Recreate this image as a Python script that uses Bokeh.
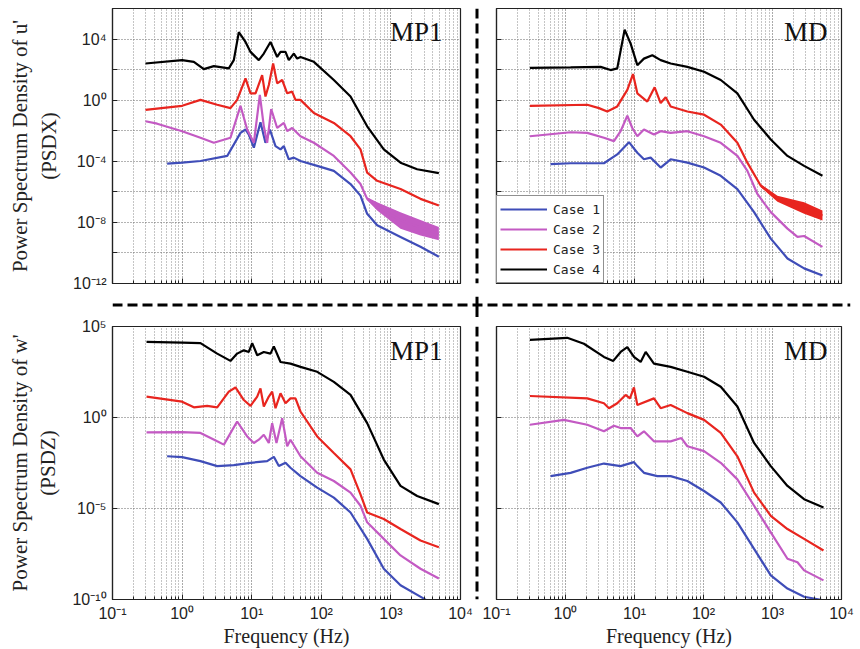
import numpy as np
from bokeh.plotting import figure
from bokeh.layouts import column, row
from bokeh.models import (Range1d, FixedTicker, CustomJSTickFormatter, Label,
                          Span, Legend, LegendItem)
from bokeh.embed import file_html
from bokeh.resources import INLINE

# ---------------- data (log10 frequency [Hz], log10 PSD) ----------------
case_names = ["Case 1", "Case 2", "Case 3", "Case 4"]
case_colors = ["#3f4db8", "#c35ac3", "#e8251f", "#000000"]

x_major = [0.1, 1, 10, 100, 1000, 10000]
x_minor = [0.2, 0.3, 0.4, 0.5, 0.6, 0.7, 0.8, 0.9,
           2, 3, 4, 5, 6, 7, 8, 9,
           20, 30, 40, 50, 60, 70, 80, 90,
           200, 300, 400, 500, 600, 700, 800, 900,
           2000, 3000, 4000, 5000, 6000, 7000, 8000, 9000]
y_ticks_u = [1e-12, 1e-10, 1e-8, 1e-6, 1e-4, 1e-2, 1, 1e2, 1e4, 1e6]
y_ticks_w = [1e-10, 1e-5, 1, 1e5]

# --- MP1, u' (PSDX) ---
mp1u_c1_f = [-0.215, 0, 0.264, 0.648, 0.839, 0.911, 0.959, 1.031, 1.126, 1.198, 1.261, 1.342, 1.414, 1.462, 1.533, 1.605, 1.701, 1.941, 2.180, 2.420, 2.563, 2.659, 2.803, 3.138, 3.425, 3.689]
mp1u_c1_p = [-4.15, -4.09, -3.98, -3.65, -2.14, -1.92, -2.25, -3.11, -1.45, -2.79, -1.92, -3.01, -3.22, -3.01, -3.87, -3.76, -3.98, -4.30, -4.63, -5.49, -6.25, -7.44, -8.19, -8.95, -9.60, -10.25]
mp1u_c2_f = [-0.526, -0.358, 0, 0.264, 0.456, 0.695, 0.839, 0.935, 1.031, 1.117, 1.174, 1.222, 1.280, 1.366, 1.462, 1.510, 1.581, 1.701, 1.893, 2.180, 2.420, 2.563, 2.659, 2.803, 3.138, 3.689]
mp1u_c2_p = [-1.38, -1.54, -2.03, -2.46, -2.79, -2.46, -0.37, -1.92, -2.79, 0.35, -1.71, -2.79, -0.58, -1.82, -1.49, -2.03, -1.82, -2.36, -2.79, -3.65, -4.74, -5.49, -6.46, -6.94, -7.87, -8.74]
mp1u_c2_band_f = [2.659, 2.803, 3.138, 3.425, 3.689]
mp1u_c2_band_hi = [-6.35, -6.68, -7.33, -7.85, -8.30]
mp1u_c2_band_lo = [-6.55, -7.22, -8.41, -8.85, -9.17]
mp1u_c3_f = [-0.526, 0, 0.264, 0.504, 0.695, 0.791, 0.911, 0.983, 1.055, 1.150, 1.198, 1.246, 1.308, 1.366, 1.438, 1.510, 1.581, 1.629, 1.701, 1.893, 2.180, 2.420, 2.563, 2.659, 2.803, 3.138, 3.425, 3.689]
mp1u_c3_p = [-0.63, -0.37, 0.02, -0.30, -0.52, 0.02, 1.43, 0.45, 0.45, 1.64, 0.24, 0.99, 2.40, 1.10, 1.32, 0.45, 0.56, 0.02, 0.02, -0.84, -1.49, -2.36, -3.22, -4.74, -5.28, -5.82, -6.46, -6.90]
mp1u_c4_f = [-0.526, 0, 0.169, 0.312, 0.456, 0.671, 0.743, 0.815, 0.911, 0.983, 1.102, 1.174, 1.270, 1.366, 1.414, 1.486, 1.533, 1.605, 1.653, 1.701, 1.893, 2.180, 2.420, 2.659, 2.898, 3.138, 3.377, 3.689]
mp1u_c4_p = [2.40, 2.62, 2.51, 2.03, 2.23, 2.08, 2.62, 4.45, 3.81, 3.16, 2.62, 3.05, 3.81, 2.83, 3.16, 3.16, 2.62, 3.05, 2.72, 2.83, 2.51, 1.32, 0.24, -1.71, -3.22, -4.09, -4.52, -4.78]

# --- MD, u' (PSDX) ---
mdu_c1_f = [-0.217, 0.074, 0.557, 0.750, 0.920, 1.041, 1.137, 1.234, 1.379, 1.524, 1.766, 2.008, 2.250, 2.491, 2.733, 2.975, 3.217, 3.458, 3.724]
mdu_c1_p = [-4.19, -4.13, -4.13, -3.55, -2.75, -3.44, -3.87, -3.76, -4.41, -3.87, -4.09, -4.41, -4.95, -5.82, -7.33, -9.06, -10.36, -11.01, -11.48]
mdu_c2_f = [-0.516, 0.074, 0.315, 0.557, 0.702, 0.799, 0.896, 0.968, 1.041, 1.137, 1.282, 1.379, 1.524, 1.766, 2.008, 2.250, 2.491, 2.636, 2.781, 2.975, 3.217, 3.362, 3.458, 3.724]
mdu_c2_p = [-2.36, -2.10, -2.14, -2.46, -2.68, -2.03, -1.02, -1.82, -2.36, -1.92, -2.25, -2.03, -2.14, -2.03, -2.36, -2.79, -3.65, -4.63, -6.14, -7.33, -8.41, -8.95, -8.89, -9.60]
mdu_c3_f = [-0.516, 0.315, 0.485, 0.605, 0.750, 0.896, 0.978, 1.041, 1.186, 1.292, 1.379, 1.452, 1.524, 1.766, 2.008, 2.250, 2.491, 2.636, 2.830, 3.072, 3.458, 3.724]
mdu_c3_p = [-0.37, -0.30, -0.52, -0.74, -0.41, 0.67, 1.71, 0.45, -0.09, 0.84, -0.19, 0.19, -0.41, -0.74, -0.95, -1.60, -2.79, -4.09, -5.60, -6.46, -7.05, -7.55]
mdu_c3_band_f = [2.830, 3.072, 3.458, 3.724]
mdu_c3_band_hi = [-5.50, -6.25, -6.68, -7.22]
mdu_c3_band_lo = [-5.70, -6.65, -7.44, -7.87]
mdu_c4_f = [-0.516, 0.074, 0.509, 0.654, 0.750, 0.857, 0.944, 1.041, 1.137, 1.258, 1.379, 1.524, 1.766, 2.008, 2.250, 2.491, 2.733, 2.975, 3.217, 3.458, 3.724]
mdu_c4_p = [2.12, 2.14, 2.18, 1.97, 2.08, 4.61, 3.70, 2.29, 2.72, 2.94, 2.62, 2.40, 2.18, 1.86, 1.32, 0.45, -1.28, -2.57, -3.65, -4.30, -4.95]

# --- MP1, w' (PSDZ) ---
mp1w_c1_f = [-0.215, 0, 0.264, 0.504, 0.743, 0.983, 1.222, 1.318, 1.390, 1.486, 1.557, 1.701, 1.941, 2.180, 2.420, 2.659, 2.898, 3.138, 3.473, 3.689]
mp1w_c1_p = [-2.13, -2.18, -2.40, -2.67, -2.62, -2.49, -2.40, -2.16, -2.67, -2.49, -2.76, -3.22, -3.85, -4.40, -5.22, -6.67, -8.31, -9.22, -9.95, -10.49]
mp1w_c2_f = [-0.511, 0, 0.264, 0.504, 0.600, 0.791, 0.935, 1.031, 1.102, 1.174, 1.246, 1.294, 1.356, 1.438, 1.510, 1.557, 1.701, 1.941, 2.180, 2.420, 2.563, 2.659, 2.898, 3.138, 3.425, 3.689]
mp1w_c2_p = [-0.82, -0.80, -0.85, -1.31, -1.49, -0.22, -1.04, -1.40, -1.22, -0.95, -1.40, -0.31, -1.40, -0.04, -1.58, -1.22, -2.13, -3.04, -3.49, -4.13, -4.85, -5.76, -6.67, -7.58, -8.31, -8.85]
mp1w_c3_f = [-0.511, 0, 0.169, 0.360, 0.504, 0.671, 0.767, 0.887, 0.983, 1.079, 1.126, 1.174, 1.246, 1.294, 1.342, 1.414, 1.486, 1.557, 1.629, 1.701, 1.941, 2.180, 2.420, 2.563, 2.659, 2.898, 3.138, 3.425, 3.689]
mp1w_c3_p = [1.15, 0.87, 0.56, 0.64, 0.56, 1.42, 1.65, 0.96, 0.64, 1.15, 1.60, 0.60, 1.15, 1.42, 0.51, 1.33, 0.78, 1.05, 1.05, 0.33, -1.04, -1.95, -2.85, -4.22, -5.22, -5.58, -6.13, -6.76, -7.13]
mp1w_c4_f = [-0.511, 0, 0.264, 0.504, 0.695, 0.791, 0.887, 0.959, 1.007, 1.079, 1.174, 1.270, 1.318, 1.414, 1.557, 1.701, 1.941, 2.180, 2.420, 2.659, 2.898, 3.138, 3.377, 3.689]
mp1w_c4_p = [4.15, 4.11, 4.09, 3.51, 3.11, 3.51, 3.69, 3.60, 4.09, 3.42, 3.60, 3.51, 3.91, 3.05, 2.96, 2.78, 2.51, 1.96, 1.24, -0.31, -2.31, -3.76, -4.31, -4.76]

# --- MD, w' (PSDZ) ---
mdw_c1_f = [-0.217, 0.074, 0.315, 0.557, 0.799, 0.992, 1.041, 1.137, 1.331, 1.524, 1.766, 2.008, 2.250, 2.491, 2.733, 2.975, 3.217, 3.458, 3.739]
mdw_c1_p = [-3.22, -3.04, -2.76, -2.53, -2.67, -2.45, -2.67, -3.04, -3.22, -3.22, -3.49, -4.04, -4.67, -5.76, -7.22, -8.67, -9.40, -9.85, -10.04]
mdw_c2_f = [-0.516, -0.023, 0.315, 0.557, 0.702, 0.799, 0.944, 1.041, 1.137, 1.282, 1.524, 1.679, 1.766, 2.008, 2.250, 2.491, 2.733, 2.975, 3.217, 3.362, 3.458, 3.739]
mdw_c2_p = [-0.40, -0.13, -0.40, -0.76, -0.45, -0.58, -0.58, -1.04, -0.76, -1.31, -1.31, -1.13, -1.58, -1.85, -2.49, -3.40, -4.85, -6.31, -7.76, -7.95, -8.40, -8.95]
mdw_c3_f = [-0.516, 0.315, 0.557, 0.630, 0.750, 0.871, 0.934, 0.992, 1.041, 1.282, 1.379, 1.524, 1.766, 2.008, 2.250, 2.491, 2.733, 2.975, 3.217, 3.458, 3.739]
mdw_c3_p = [1.18, 1.05, 0.78, 0.51, 0.78, 1.24, 1.05, 1.65, 0.69, 1.05, 0.51, 0.69, 0.24, -0.13, -0.85, -2.13, -4.13, -5.40, -6.13, -6.67, -7.31]
mdw_c4_f = [-0.516, 0.025, 0.267, 0.557, 0.692, 0.799, 0.896, 0.992, 1.089, 1.162, 1.282, 1.524, 1.766, 2.008, 2.250, 2.491, 2.733, 2.975, 3.217, 3.458, 3.739]
mdw_c4_p = [4.27, 4.38, 4.05, 3.33, 3.11, 3.60, 3.87, 3.33, 3.05, 3.60, 2.96, 2.78, 2.51, 2.24, 1.69, 0.60, -1.40, -2.67, -3.76, -4.49, -4.95]

# ---------------- helpers ----------------
SUP_CODE = """
const e = Math.round(Math.log10(tick));
if (e % step !== 0) return "";
const m = {"-": "\u207b", "0": "\u2070", "1": "\u00b9", "2": "\u00b2", "3": "\u00b3",
           "4": "\u2074", "5": "\u2075", "6": "\u2076", "7": "\u2077", "8": "\u2078", "9": "\u2079"};
return "10" + String(e).split("").map(c => m[c]).join("");
"""


def sup_fmt(step):
    return CustomJSTickFormatter(args=dict(step=step), code=SUP_CODE)


def blank_fmt():
    return CustomJSTickFormatter(code='return "";')


AX = "#222222"


def style_axis(ax, labels_on):
    ax.axis_line_color = AX
    ax.axis_line_width = 1.2
    ax.major_tick_line_color = AX
    ax.minor_tick_line_color = AX
    ax.major_tick_in = 5
    ax.major_tick_out = 0
    ax.minor_tick_in = 3
    ax.minor_tick_out = 0
    ax.major_label_text_color = AX
    ax.axis_label_text_font = "Liberation Serif"
    ax.axis_label_text_font_style = "normal"
    ax.axis_label_text_color = AX
    if labels_on:
        ax.major_label_text_font = "Liberation Sans"
        ax.major_label_text_font_size = "16px"
    else:
        ax.major_label_text_font_size = "1px"
        ax.major_label_standoff = 0


def panel(w, h, yr, yticks, ystep, bl, br, bt, bb, ylab_on, xlab_on, ylabel,
          tag, tag_x, tag_y, series, bands):
    p = figure(width=w, height=h, x_axis_type="log", y_axis_type="log",
               x_range=Range1d(0.1, 1e4), y_range=Range1d(*yr),
               output_backend="svg", toolbar_location=None,
               min_border_left=bl, min_border_right=br,
               min_border_top=bt, min_border_bottom=bb)
    p.background_fill_color = "white"
    p.border_fill_color = "white"
    p.outline_line_color = AX
    p.outline_line_width = 1.2
    xt = FixedTicker(ticks=x_major, minor_ticks=x_minor)
    yt = FixedTicker(ticks=yticks, minor_ticks=[])
    p.xaxis.ticker = xt
    p.yaxis.ticker = yt
    p.xgrid.ticker = xt
    p.ygrid.ticker = yt
    p.xaxis.formatter = sup_fmt(1) if xlab_on else blank_fmt()
    p.yaxis.formatter = sup_fmt(ystep) if ylab_on else blank_fmt()
    style_axis(p.xaxis[0], xlab_on)
    style_axis(p.yaxis[0], ylab_on)
    if xlab_on:
        p.xaxis.major_label_standoff = 5
        p.xaxis.axis_label = "Frequency (Hz)"
        p.xaxis.axis_label_text_font_size = "20px"
        p.xaxis.axis_label_standoff = 0
    if ylab_on:
        p.yaxis.major_label_standoff = 6
        p.yaxis.axis_label = ylabel
        p.yaxis.axis_label_text_font_size = "21px"
        p.yaxis.axis_label_standoff = 9
    p.xgrid.grid_line_color = "#555555"
    p.xgrid.grid_line_dash = "1 2"
    p.xgrid.minor_grid_line_color = "#8a8a8a"
    p.xgrid.minor_grid_line_dash = "1 2"
    p.ygrid.grid_line_color = "#666666"
    p.ygrid.grid_line_dash = "1 2"

    rends = []
    for i, (lf, lp) in enumerate(series):
        for (bi, bf, bhi, blo) in bands:
            if bi == i:
                p.varea(x=10 ** np.array(bf), y1=10 ** np.array(blo),
                        y2=10 ** np.array(bhi), fill_color=case_colors[i])
        r = p.line(10 ** np.array(lf), 10 ** np.array(lp),
                   line_color=case_colors[i], line_width=2.2)
        rends.append(r)

    p.add_layout(Label(x=tag_x, y=tag_y, x_units="screen", y_units="screen",
                       text=tag, text_font="Liberation Serif", text_font_size="27px",
                       text_color="#111111", text_align="right",
                       text_baseline="alphabetic"))
    return p, rends


def blank_fig(w, h, xr, yr, bl=0, br=0, bt=0, bb=0):
    s = figure(width=w, height=h, x_range=Range1d(*xr), y_range=Range1d(*yr),
               output_backend="svg", toolbar_location=None, title=None,
               x_axis_location=None, y_axis_location=None,
               min_border_left=bl, min_border_right=br,
               min_border_top=bt, min_border_bottom=bb)
    s.grid.visible = False
    s.outline_line_color = None
    s.background_fill_color = "white"
    s.border_fill_color = "white"
    return s


def dashed_span(loc, dim):
    return Span(location=loc, dimension=dim, line_color="black",
                line_width=3, line_dash="10 5")


LEFT_W, SEP_W, RIGHT_W = 474, 5, 380
TOP_H, SEP_H, BOT_H = 296, 21, 332
TOTAL_W = LEFT_W + SEP_W + RIGHT_W

tl, _ = panel(LEFT_W, TOP_H, (1e-12, 1e6), y_ticks_u, 4, 112, 14, 8, 13, True, False,
              "Power Spectrum Density of u'\n(PSDX)", "MP1", 330, 252,
              [(mp1u_c1_f, mp1u_c1_p), (mp1u_c2_f, mp1u_c2_p),
               (mp1u_c3_f, mp1u_c3_p), (mp1u_c4_f, mp1u_c4_p)],
              [(1, mp1u_c2_band_f, mp1u_c2_band_hi, mp1u_c2_band_lo)])
tr, tr_r = panel(RIGHT_W, TOP_H, (1e-12, 1e6), y_ticks_u, 4, 17, 18, 8, 13, False, False,
                 "", "MD", 331, 252,
                 [(mdu_c1_f, mdu_c1_p), (mdu_c2_f, mdu_c2_p),
                  (mdu_c3_f, mdu_c3_p), (mdu_c4_f, mdu_c4_p)],
                 [(2, mdu_c3_band_f, mdu_c3_band_hi, mdu_c3_band_lo)])
bl, _ = panel(LEFT_W, BOT_H, (1e-10, 1e5), y_ticks_w, 5, 112, 14, 9, 50, True, True,
              "Power Spectrum Density of w'\n(PSDZ)", "MP1", 330, 249,
              [(mp1w_c1_f, mp1w_c1_p), (mp1w_c2_f, mp1w_c2_p),
               (mp1w_c3_f, mp1w_c3_p), (mp1w_c4_f, mp1w_c4_p)], [])
br, _ = panel(RIGHT_W, BOT_H, (1e-10, 1e5), y_ticks_w, 5, 17, 18, 9, 50, False, True,
              "", "MD", 331, 249,
              [(mdw_c1_f, mdw_c1_p), (mdw_c2_f, mdw_c2_p),
               (mdw_c3_f, mdw_c3_p), (mdw_c4_f, mdw_c4_p)], [])

legend = Legend(items=[LegendItem(label=case_names[i], renderers=[tr_r[i]]) for i in range(4)],
                location=(0, 0), margin=0, padding=3, spacing=0,
                glyph_width=47, glyph_height=20, label_height=20, label_standoff=6,
                label_text_font="DejaVu Sans Mono", label_text_font_size="13px",
                label_text_color="#222222",
                border_line_color="#222222", border_line_width=1.2,
                background_fill_color="white", background_fill_alpha=1.0)
tr.add_layout(legend, "center")

# dashed separators between the four panels (pixel-unit frames)
v_top = blank_fig(SEP_W, TOP_H, (0, SEP_W), (0, TOP_H - 6), bt=6)
v_top.add_layout(dashed_span(SEP_W / 2, "height"))
v_bot = blank_fig(SEP_W, BOT_H, (0, SEP_W), (0, BOT_H - 46), bb=46)
v_bot.add_layout(dashed_span(SEP_W / 2, "height"))
h_sep = blank_fig(TOTAL_W, SEP_H, (0, TOTAL_W - 112 - 9), (0, SEP_H), bl=112, br=9)
h_sep.add_layout(dashed_span(SEP_H - 8.5, "width"))
h_sep.add_layout(Span(location=LEFT_W + SEP_W / 2 - 112, dimension="height",
                      line_color="black", line_width=3))

page = column(row(tl, v_top, tr), h_sep, row(bl, v_bot, br))

with open("out.html", "w") as f:
    f.write(file_html(page, INLINE))
